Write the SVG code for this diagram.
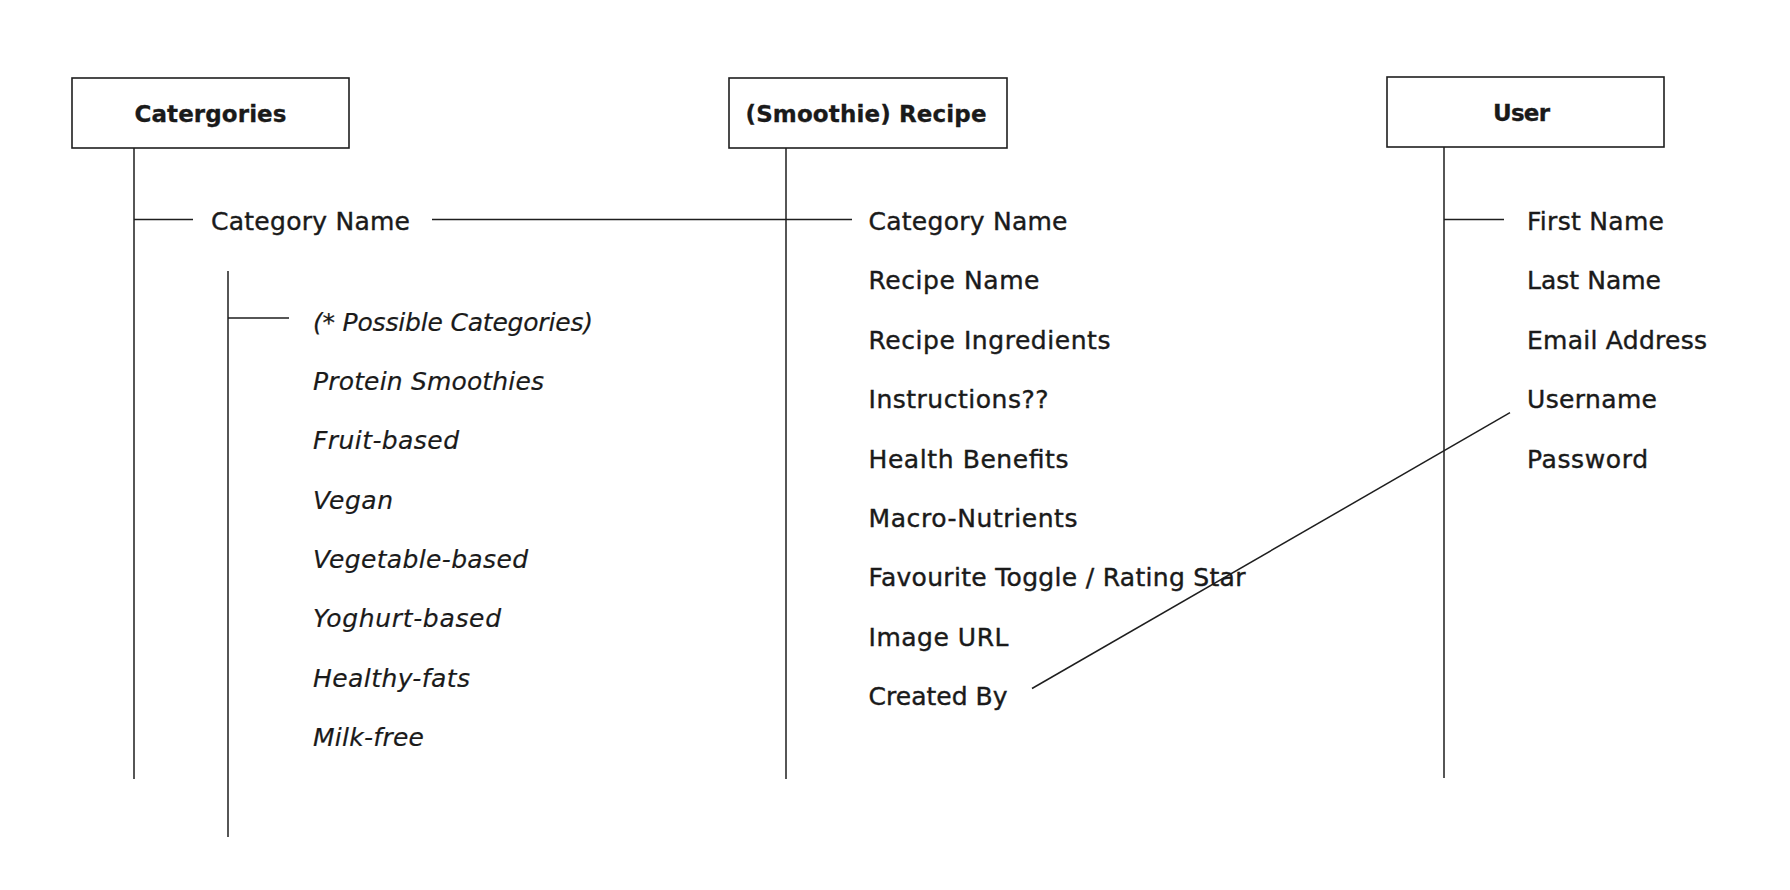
<svg xmlns="http://www.w3.org/2000/svg" width="1790" height="890" viewBox="0 0 1790 890">
<style>
.box{fill:#fff;stroke:#1e1e1e;stroke-width:1.6}
.hdr{font-family:"DejaVu Sans","Liberation Sans",sans-serif;font-weight:bold;font-size:23px;fill:#1a1a1a;stroke:#1a1a1a;stroke-width:0.3;text-anchor:middle}
.fld{font-family:"DejaVu Sans","Liberation Sans",sans-serif;font-size:25px;fill:#1a1a1a;stroke:#1a1a1a;stroke-width:0.4}
.it{font-family:"DejaVu Sans","Liberation Sans",sans-serif;font-style:italic;font-size:25px;fill:#1a1a1a;stroke:#1a1a1a;stroke-width:0.2}
.ln{stroke:#1e1e1e;stroke-width:1.5;fill:none}
</style>
<rect width="1790" height="890" fill="#fff"/>
<g id="connectors">
<line class="ln" x1="134" y1="148" x2="134" y2="779"/>
<line class="ln" x1="134" y1="219.5" x2="193" y2="219.5"/>
<line class="ln" x1="228" y1="271" x2="228" y2="837"/>
<line class="ln" x1="228" y1="318" x2="289" y2="318"/>
<line class="ln" x1="432" y1="219.5" x2="852" y2="219.5"/>
<line class="ln" x1="786" y1="148" x2="786" y2="779"/>
<line class="ln" x1="1444" y1="147" x2="1444" y2="778"/>
<line class="ln" x1="1444" y1="219.5" x2="1504" y2="219.5"/>
<line class="ln" x1="1032" y1="688.5" x2="1510" y2="412.7"/>
</g>
<g id="categories">
<rect class="box" x="72" y="78" width="277" height="70"/>
<text class="hdr" x="210.5" y="121.5" textLength="152">Catergories</text>
<text class="fld" x="211" y="230" textLength="199">Category Name</text>
<text class="it" x="313" y="331" textLength="280">(* Possible Categories)</text>
<text class="it" x="313" y="390" textLength="231">Protein Smoothies</text>
<text class="it" x="313" y="449" textLength="146">Fruit-based</text>
<text class="it" x="313" y="508.5" textLength="80">Vegan</text>
<text class="it" x="313" y="568" textLength="215">Vegetable-based</text>
<text class="it" x="313" y="627" textLength="188">Yoghurt-based</text>
<text class="it" x="313" y="686.5" textLength="157">Healthy-fats</text>
<text class="it" x="313" y="746" textLength="111">Milk-free</text>
</g>
<g id="recipe">
<rect class="box" x="729" y="78" width="278" height="70"/>
<text class="hdr" x="866" y="121.5" textLength="241">(Smoothie) Recipe</text>
<text class="fld" x="868.5" y="230" textLength="199">Category Name</text>
<text class="fld" x="868.5" y="289.4" textLength="171">Recipe Name</text>
<text class="fld" x="868.5" y="348.8" textLength="242">Recipe Ingredients</text>
<text class="fld" x="868.5" y="408.2" textLength="180">Instructions??</text>
<text class="fld" x="868.5" y="467.6" textLength="200">Health Benefits</text>
<text class="fld" x="868.5" y="527" textLength="209">Macro-Nutrients</text>
<text class="fld" x="868.5" y="586.4" textLength="377">Favourite Toggle / Rating Star</text>
<text class="fld" x="868.5" y="645.8" textLength="140">Image URL</text>
<text class="fld" x="868.5" y="705.2" textLength="139">Created By</text>
</g>
<g id="user">
<rect class="box" x="1387" y="77" width="277" height="70"/>
<text class="hdr" x="1521.5" y="121" textLength="57">User</text>
<text class="fld" x="1527" y="230" textLength="137">First Name</text>
<text class="fld" x="1527" y="289.4" textLength="134">Last Name</text>
<text class="fld" x="1527" y="348.8" textLength="180">Email Address</text>
<text class="fld" x="1527" y="408.2" textLength="130">Username</text>
<text class="fld" x="1527" y="467.6" textLength="121">Password</text>
</g>
</svg>
